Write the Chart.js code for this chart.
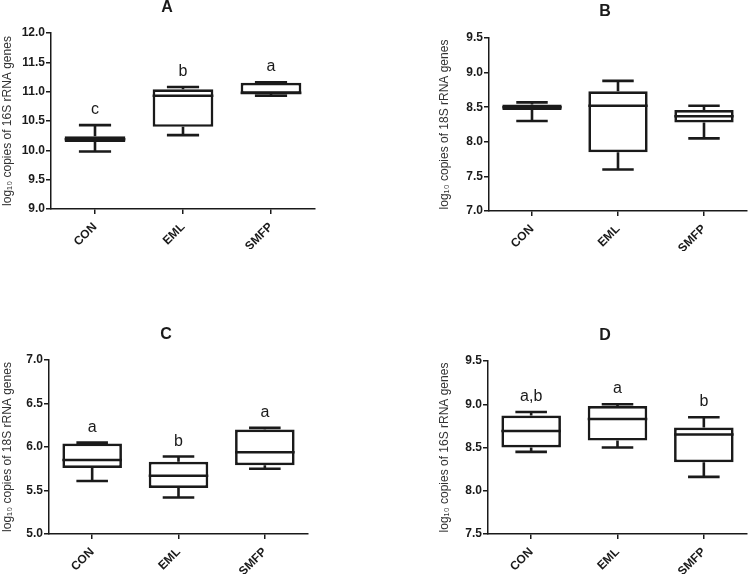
<!DOCTYPE html>
<html>
<head>
<meta charset="utf-8">
<script src="https://cdn.jsdelivr.net/npm/chart.js@4.4.1/dist/chart.umd.min.js"></script>
<style>
  body { margin: 0; background: #fff; }
  #wrap { position: relative; width: 748px; height: 576px; overflow: hidden; }
  canvas { position: absolute; }
</style>
</head>
<body>
<div id="wrap">
  <canvas id="chartA" width="374" height="288" style="left:0;top:0"></canvas>
  <canvas id="chartB" width="374" height="288" style="left:374px;top:0"></canvas>
  <canvas id="chartC" width="374" height="288" style="left:0;top:288px"></canvas>
  <canvas id="chartD" width="374" height="288" style="left:374px;top:288px"></canvas>
</div>
<script>
const groups = ['CON', 'EML', 'SMFP'];

// five-number summary per group: [min, q1, median, q3, max]
const boxA = [[9.98, 10.14, 10.19, 10.24, 10.43], [10.26, 10.40, 10.93, 11.04, 11.08], [10.93, 10.96, 10.98, 11.15, 11.16]];
const boxB = [[8.30, 8.46, 8.50, 8.54, 8.57], [7.60, 7.85, 8.52, 8.73, 8.88], [8.05, 8.28, 8.37, 8.46, 8.52]];
const boxC = [[5.61, 5.76, 5.85, 6.04, 6.05], [5.42, 5.53, 5.67, 5.83, 5.89], [5.75, 5.79, 5.94, 6.20, 6.22]];
const boxD = [[8.45, 8.50, 8.69, 8.87, 8.91], [8.50, 8.58, 8.83, 8.98, 9.00], [8.16, 8.33, 8.65, 8.73, 8.85]];

const lettersA = ['c', 'b', 'a'];
const lettersB = ['', '', ''];
const lettersC = ['a', 'b', 'a'];
const lettersD = ['a,b', 'a', 'b'];

const rangeA = [9, 12];
const rangeB = [7, 9.5];
const rangeC = [5, 7];
const rangeD = [7.5, 9.5];

const title16S = 'log\u2081\u2080 copies of 16S rRNA genes';
const title18S = 'log\u2081\u2080 copies of 18S rRNA genes';

const ink = '#1a1a1a';
Chart.defaults.font.family = "'Liberation Sans', Arial, sans-serif";
Chart.defaults.color = ink;

// whiskers, median line, letters and panel letter
const boxPlugin = {
    id: 'boxes',
    afterDatasetsDraw(chart, args, opts) {
        const ctx = chart.ctx;
        const y = chart.scales.y;
        const meta = chart.getDatasetMeta(0);
        ctx.save();
        ctx.strokeStyle = ink;
        ctx.lineWidth = 2.6;
        ctx.lineCap = 'butt';
        opts.stats.forEach((s, i) => {
            const bar = meta.data[i];
            const cx = bar.x;
            const half = bar.width / 2;
            const cap = half * 0.53;
            const [mn, q1, md, q3, mx] = s.map(v => y.getPixelForValue(v));
            ctx.beginPath();
            ctx.moveTo(cx, q3); ctx.lineTo(cx, mx);
            ctx.moveTo(cx - cap, mx); ctx.lineTo(cx + cap, mx);
            ctx.moveTo(cx, q1); ctx.lineTo(cx, mn);
            ctx.moveTo(cx - cap, mn); ctx.lineTo(cx + cap, mn);
            ctx.moveTo(cx - half, md); ctx.lineTo(cx + half, md);
            ctx.stroke();

            ctx.fillStyle = ink;
            ctx.font = "16px 'Liberation Sans', Arial, sans-serif";
            ctx.textAlign = 'center';
            ctx.textBaseline = 'alphabetic';
            ctx.fillText(opts.letters[i], cx, mx - 11);
        });
        ctx.font = "bold 16px 'Liberation Sans', Arial, sans-serif";
        ctx.textAlign = 'center';
        ctx.textBaseline = 'middle';
        ctx.fillText(opts.title, opts.titleX, opts.titleY);
        ctx.restore();
    }
};

function makePanel(id, stats, letters, range, yTitle, title, lay) {
    new Chart(document.getElementById(id), {
        type: 'bar',
        data: {
            labels: groups,
            datasets: [{
                data: stats.map(s => [s[1], s[3]]),
                backgroundColor: '#fff',
                borderColor: ink,
                borderWidth: 2.7,
                borderSkipped: false,
                barPercentage: 0.69,
                categoryPercentage: 1
            }]
        },
        options: {
            responsive: false,
            animation: false,
            layout: { padding: lay.pad },
            plugins: {
                legend: { display: false },
                tooltip: { enabled: false },
                boxes: { stats, letters, title, titleX: lay.titleX, titleY: lay.titleY }
            },
            scales: {
                x: {
                    afterFit: s => { s.height = 40; },
                    border: { color: ink, width: 1.5 },
                    grid: { display: true, offset: false, drawOnChartArea: false, color: ink, lineWidth: 1.5, tickLength: 5 },
                    ticks: { minRotation: 45, maxRotation: 45, padding: 6, font: { size: 12, weight: 'bold' } }
                },
                y: {
                    min: range[0],
                    max: range[1],
                    afterFit: s => { s.width = lay.yW; },
                    border: { color: ink, width: 1.5 },
                    grid: { display: true, drawOnChartArea: false, color: ink, lineWidth: 1.5, tickLength: 5 },
                    ticks: { stepSize: 0.5, padding: 1, font: { size: 12, weight: 'bold' }, callback: v => v.toFixed(1) },
                    title: { display: true, text: yTitle, padding: 0, font: { size: 12 }, color: '#333' }
                }
            }
        },
        plugins: [boxPlugin]
    });
}

makePanel('chartA', boxA, lettersA, rangeA, title16S, 'A',
    { pad: { left: 0, top: 33, right: 59, bottom: 39 }, yW: 51, titleX: 167, titleY: 8 });
makePanel('chartB', boxB, lettersB, rangeB, title18S, 'B',
    { pad: { left: 63, top: 38, right: 1, bottom: 37 }, yW: 52, titleX: 231, titleY: 12 });
makePanel('chartC', boxC, lettersC, rangeC, title18S, 'C',
    { pad: { left: 0, top: 72, right: 66, bottom: 2 }, yW: 49, titleX: 166, titleY: 47 });
makePanel('chartD', boxD, lettersD, rangeD, title16S, 'D',
    { pad: { left: 63, top: 73, right: 1, bottom: 2 }, yW: 51, titleX: 231, titleY: 48 });
</script>
</body>
</html>
